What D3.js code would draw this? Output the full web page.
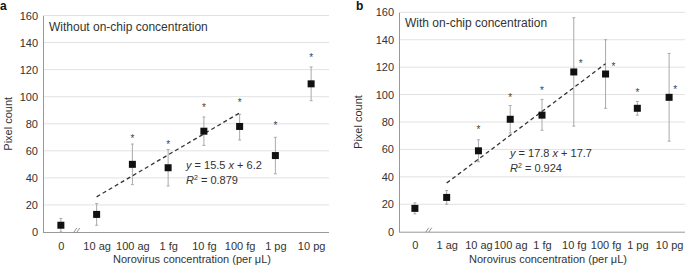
<!DOCTYPE html>
<html>
<head>
<meta charset="utf-8">
<script src="https://cdn.jsdelivr.net/npm/d3@7"></script>
<style>
  body { margin: 0; background: #fff; }
  svg { font-family: "Liberation Sans", Arial, sans-serif; }
  .tick text { font-size: 11px; fill: #333; }
</style>
</head>
<body>
<div id="okvir"></div>
<script>
// panel a - without on-chip concentration
const catsA = ["0", "10 ag", "100 ag", "1 fg", "10 fg", "100 fg", "1 pg", "10 pg"]
const meanA = [5, 13, 50, 47.5, 74.5, 78, 56.5, 109.5]
const lowA = [0, 5, 35, 34, 64, 68, 43, 97]
const highA = [10, 21, 65, 61, 85, 87, 70, 122]
const starA = [null, null, 70.5, 66, 93, 97, 80, 130]
const starDxA = [0, 0, 0, 0, 0, 0, 0, 0]
const fitA = [["10 ag", 26], ["100 fg", 88]]

// panel b - with on-chip concentration
const catsB = ["0", "1 ag", "10 ag", "100 ag", "1 fg", "10 fg", "100 fg", "1 pg", "10 pg"]
const meanB = [17, 25, 59, 82, 85, 116.5, 115, 90, 98]
const lowB = [13, 20, 51, 72, 74, 77, 90, 85, 66]
const highB = [21, 30, 67, 92, 96.5, 156, 140, 95, 130]
const starB = [null, null, 75.5, 99, 104, 123.5, 121.5, 102.5, 104.5]
const starDxB = [0, 0, 0, 0, 0, 7, 8, 0, 6]
const fitB = [["1 ag", 35.5], ["100 fg", 122.5]]

const yTicks = [0, 20, 40, 60, 80, 100, 120, 140, 160]

const svg = d3.select("#okvir").append("svg")
  .attr("width", 685)
  .attr("height", 267)

function crtajPanel(p) {
  const x = d3.scalePoint().domain(p.cats).range([p.left, p.right]).padding(0.5)
  const y = d3.scaleLinear().domain([0, 160]).range([p.bottom, p.top])
  const g = svg.append("g")

  // grid
  g.selectAll(".grid").data(yTicks.slice(1)).enter().append("line")
    .attr("x1", p.left).attr("x2", p.right)
    .attr("y1", d => y(d)).attr("y2", d => y(d))
    .attr("stroke", "#e2e2e2").attr("stroke-width", 1)

  // y axis
  const yAx = g.append("g")
    .attr("transform", `translate(${p.left},0)`)
    .call(d3.axisLeft(y).tickValues(yTicks).tickSize(0).tickPadding(5))
  yAx.select(".domain").attr("stroke", "#999")

  // x axis
  const xAx = g.append("g")
    .attr("transform", `translate(0,${p.bottom})`)
    .call(d3.axisBottom(x).tickSize(0).tickPadding(10))
  xAx.select(".domain").attr("stroke", "#999").attr("d", `M${p.left},0.5H${p.right}`)
  xAx.selectAll(".tick text").attr("dy", "0.71em")

  // axis break
  const bx = (x(p.cats[0]) + x(p.cats[1])) / 2 - 2
  ;[-1.5, 1.5].forEach(o => {
    g.append("line")
      .attr("x1", bx + o - 1.5).attr("y1", p.bottom + 0.5)
      .attr("x2", bx + o + 1.5).attr("y2", p.bottom - 4)
      .attr("stroke", "#777").attr("stroke-width", 0.8)
  })

  // error bars
  const eb = g.selectAll(".eb").data(p.cats).enter().append("g")
  eb.append("line")
    .attr("x1", d => x(d)).attr("x2", d => x(d))
    .attr("y1", (d, i) => y(p.low[i])).attr("y2", (d, i) => y(p.high[i]))
    .attr("stroke", "#aaa").attr("stroke-width", 1)
  ;["low", "high"].forEach(k => {
    eb.append("line")
      .attr("x1", d => x(d) - 1.5).attr("x2", d => x(d) + 1.5)
      .attr("y1", (d, i) => y(p[k][i])).attr("y2", (d, i) => y(p[k][i]))
      .attr("stroke", "#aaa").attr("stroke-width", 1)
  })

  // fit line
  g.append("line")
    .attr("x1", x(p.fit[0][0])).attr("y1", y(p.fit[0][1]))
    .attr("x2", x(p.fit[1][0])).attr("y2", y(p.fit[1][1]))
    .attr("stroke", "#333").attr("stroke-width", 1.3)
    .attr("stroke-dasharray", "4,3")

  // markers
  const s = 7
  g.selectAll(".m").data(p.cats).enter().append("rect")
    .attr("x", d => x(d) - s / 2)
    .attr("y", (d, i) => y(p.mean[i]) - s / 2)
    .attr("width", s).attr("height", s)
    .attr("fill", "#111")

  // stars
  g.selectAll(".star").data(p.cats.filter((d, i) => p.star[i] != null)).enter().append("text")
    .attr("x", d => x(d) + p.starDx[p.cats.indexOf(d)])
    .attr("y", d => y(p.star[p.cats.indexOf(d)]) + 5)
    .attr("text-anchor", "middle")
    .attr("font-size", 10)
    .attr("fill", "#444")
    .text("*")

  // titles
  g.append("text").attr("x", p.left + 6).attr("y", p.top + 15)
    .attr("font-size", 12).attr("fill", "#333").text(p.title)
  g.append("text").attr("x", p.labX).attr("y", 10)
    .attr("font-size", 12).attr("font-weight", "bold").attr("fill", "#111").text(p.lab)
  g.append("text")
    .attr("transform", `translate(${p.yLabX},${(p.top + p.bottom) / 2}) rotate(-90)`)
    .attr("text-anchor", "middle").attr("font-size", 11).attr("fill", "#333")
    .text("Pixel count")
  g.append("text").attr("x", (p.left + p.right) / 2 + 6).attr("y", 263)
    .attr("text-anchor", "middle").attr("font-size", 11).attr("fill", "#333")
    .text("Norovirus concentration (per μL)")

  // equation
  const eq = g.append("text").attr("x", p.eqX).attr("y", p.eqY)
    .attr("font-size", 11).attr("fill", "#333")
  eq.append("tspan").attr("font-style", "italic").text("y")
  eq.append("tspan").text(` = ${p.eq[0]} `)
  eq.append("tspan").attr("font-style", "italic").text("x")
  eq.append("tspan").text(` + ${p.eq[1]}`)
  const r2 = g.append("text").attr("x", p.eqX).attr("y", p.eqY + 15)
    .attr("font-size", 11).attr("fill", "#333")
  r2.append("tspan").attr("font-style", "italic").text("R")
  r2.append("tspan").attr("font-size", 7).attr("dy", -4).text("2")
  r2.append("tspan").attr("dy", 4).text(` = ${p.eq[2]}`)
}

crtajPanel({
  cats: catsA, mean: meanA, low: lowA, high: highA, star: starA, starDx: starDxA, fit: fitA,
  left: 43, right: 329, top: 15.5, bottom: 232,
  title: "Without on-chip concentration", lab: "a", labX: 0, yLabX: 12,
  eq: ["15.5", "6.2", "0.879"], eqX: 186, eqY: 169
})
crtajPanel({
  cats: catsB, mean: meanB, low: lowB, high: highB, star: starB, starDx: starDxB, fit: fitB,
  left: 399, right: 685, top: 12.3, bottom: 231.7,
  title: "With on-chip concentration", lab: "b", labX: 356, yLabX: 362,
  eq: ["17.8", "17.7", "0.924"], eqX: 510, eqY: 157
})
</script>
</body>
</html>
